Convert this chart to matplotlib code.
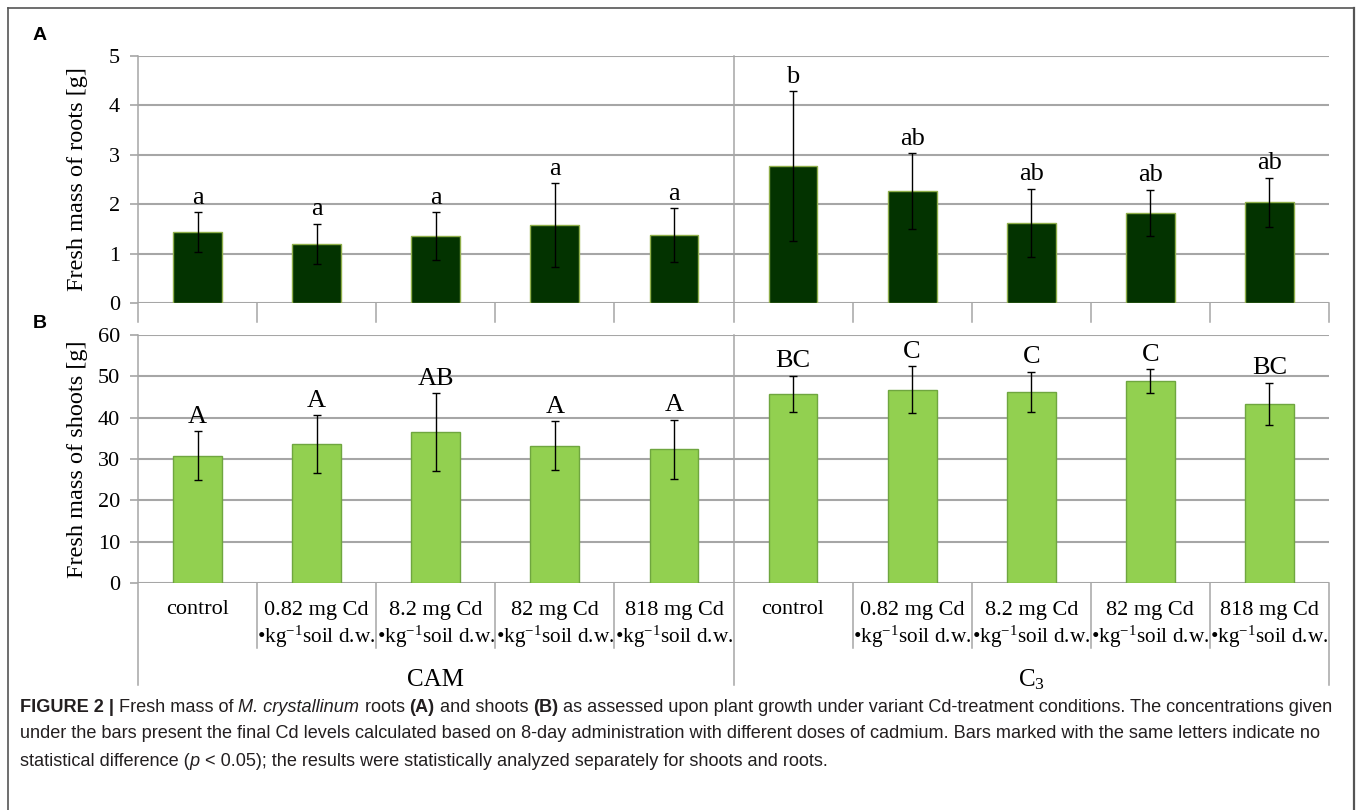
import matplotlib
matplotlib.use('Agg')
import matplotlib.pyplot as plt
import numpy as np

plt.rcParams['mathtext.fontset'] = 'custom'
plt.rcParams['mathtext.rm'] = 'Liberation Serif'
plt.rcParams['mathtext.it'] = 'Liberation Serif:italic'

# data
dose_top = ['control', '0.82 mg Cd', '8.2 mg Cd', '82 mg Cd', '818 mg Cd']
dose_bottom = ['', r'•kg$^{\mathregular{-1}}$soil d.w.', r'•kg$^{\mathregular{-1}}$soil d.w.',
               r'•kg$^{\mathregular{-1}}$soil d.w.', r'•kg$^{\mathregular{-1}}$soil d.w.']
groups = ['CAM', r'C$_3$']

roots_mean = [1.44, 1.19, 1.36, 1.57, 1.38, 2.77, 2.26, 1.62, 1.82, 2.04]
roots_err = [0.40, 0.41, 0.48, 0.85, 0.54, 1.52, 0.77, 0.69, 0.47, 0.50]
roots_letters = ['a', 'a', 'a', 'a', 'a', 'b', 'ab', 'ab', 'ab', 'ab']

shoots_mean = [30.8, 33.6, 36.5, 33.2, 32.3, 45.7, 46.8, 46.2, 48.8, 43.3]
shoots_err = [5.9, 7.0, 9.4, 5.9, 7.2, 4.4, 5.6, 4.9, 2.9, 5.1]
shoots_letters = ['A', 'A', 'AB', 'A', 'A', 'BC', 'C', 'C', 'C', 'BC']

W, H = 1358, 810
fig = plt.figure(figsize=(W / 100, H / 100), dpi=100)
serif = ['Liberation Serif', 'DejaVu Serif']
grid_c = '#a6a6a6'
n = len(roots_mean)
x = np.arange(n)


def px_axes(left, top, right, bottom):
    return fig.add_axes([left / W, 1 - bottom / H, (right - left) / W, (bottom - top) / H])


def setup(ax, ymax, step, ylabel, sep_len, long_len):
    ax.set_xlim(-0.5, n - 0.5)
    ax.set_ylim(0, ymax)
    ticks = np.arange(0, ymax + 0.1, step)
    ax.set_yticks(ticks)
    ax.set_yticklabels([f'{v:g}' for v in ticks], fontfamily=serif, fontsize=16)
    ax.tick_params(axis='y', length=6, width=1.2, color=grid_c, pad=7)
    ax.set_xticks([])
    for s in ['top', 'right', 'bottom', 'left']:
        ax.spines[s].set_visible(False)
    for v in ticks:
        ax.axhline(v, color=grid_c, lw=1.5, zorder=0)
    tr = ax.get_xaxis_transform()
    # category separators below the axis
    for b in np.arange(0.5, n - 0.5, 1):
        if b == 4.5:
            continue
        ax.plot([b, b], [0, -sep_len], color=grid_c, lw=1.1, transform=tr, clip_on=False)
    # long lines: left edge, group divider, right edge
    ax.plot([-0.5, -0.5], [1, -long_len], color=grid_c, lw=1.1, transform=tr, clip_on=False)
    ax.plot([4.5, 4.5], [1, -long_len], color=grid_c, lw=1.1, transform=tr, clip_on=False)
    ax.plot([n - 0.5, n - 0.5], [0, -long_len], color=grid_c, lw=1.1, transform=tr, clip_on=False)
    ax.set_ylabel(ylabel, fontfamily=serif, fontsize=17.5)
    ax.yaxis.set_label_coords((88 - 138) / 1191, 0.5)


def draw_bars(ax, mean, err, letters, fc, ec):
    ax.bar(x, mean, width=0.41, color=fc, edgecolor=ec, linewidth=1, zorder=2)
    ax.errorbar(x, mean, yerr=err, fmt='none', ecolor='black', elinewidth=1,
                capsize=3, capthick=1, zorder=3)
    for xi, m, e, lab in zip(x, mean, err, letters):
        ax.annotate(lab, (xi, m + e), xytext=(0, 2.5), textcoords='offset points',
                    ha='center', va='bottom', fontfamily=serif, fontsize=19)


# panel A - roots
axA = px_axes(138, 56, 1329, 303)
setup(axA, 5, 1, 'Fresh mass of roots [g]', 19 / 247, 19 / 247)
draw_bars(axA, roots_mean, roots_err, roots_letters, '#033300', '#8fae4a')

# panel B - shoots
axB = px_axes(138, 335, 1329, 583)
setup(axB, 60, 10, 'Fresh mass of shoots [g]', 65 / 248, 102 / 248)
draw_bars(axB, shoots_mean, shoots_err, shoots_letters, '#92d050', '#6fa63f')

trB = axB.get_xaxis_transform()
for i in range(n):
    top = dose_top[i % 5]
    bot = dose_bottom[i % 5]
    axB.text(i, -27 / 248, top, transform=trB, ha='center', va='center',
             fontfamily=serif, fontsize=16)
    if bot:
        axB.text(i, -54 / 248, bot, transform=trB, ha='center', va='center',
                 fontfamily=serif, fontsize=15.3)
axB.text(2, -97 / 248, groups[0], transform=trB, ha='center', va='center',
         fontfamily=serif, fontsize=18)
axB.text(7, -97 / 248, groups[1], transform=trB, ha='center', va='center',
         fontfamily=serif, fontsize=18)

# panel letters
fig.text(40 / W, 1 - 36 / H, 'A', fontsize=14, fontweight='bold', fontfamily='Liberation Sans',
         ha='center', va='center')
fig.text(40 / W, 1 - 324 / H, 'B', fontsize=14, fontweight='bold', fontfamily='Liberation Sans',
         ha='center', va='center')

# outer frame
frame_c = '#555555'
fig.add_artist(plt.Line2D([8 / W, 8 / W], [0, 1 - 8 / H], color=frame_c, lw=1.2))
fig.add_artist(plt.Line2D([1354 / W, 1354 / W], [0, 1 - 8 / H], color=frame_c, lw=1.6))
fig.add_artist(plt.Line2D([8 / W, 1354 / W], [1 - 8 / H, 1 - 8 / H], color=frame_c, lw=1.2))

# caption with mixed styles
cap_c = '#231f20'
cap_lines = [
    [('FIGURE 2 | ', 'bold', 'normal'), ('Fresh mass of ', 'normal', 'normal'),
     ('M. crystallinum', 'normal', 'italic'), (' roots ', 'normal', 'normal'),
     ('(A)', 'bold', 'normal'), (' and shoots ', 'normal', 'normal'),
     ('(B)', 'bold', 'normal'),
     (' as assessed upon plant growth under variant Cd-treatment conditions. The concentrations given',
      'normal', 'normal')],
    [('under the bars present the final Cd levels calculated based on 8-day administration with '
      'different doses of cadmium. Bars marked with the same letters indicate no', 'normal', 'normal')],
    [('statistical difference (', 'normal', 'normal'), ('p', 'normal', 'italic'),
     (' < 0.05); the results were statistically analyzed separately for shoots and roots.',
      'normal', 'normal')],
]
cap_y = [707, 734, 761]
fig.canvas.draw()
renderer = fig.canvas.get_renderer()
for segs, yy in zip(cap_lines, cap_y):
    xpos = 20
    for txt, wt, st in segs:
        t = fig.text(xpos / W, 1 - yy / H, txt, fontsize=13.1, fontfamily='Liberation Sans',
                     fontweight=wt, fontstyle=st, color=cap_c, va='center', ha='left')
        bb = t.get_window_extent(renderer=renderer)
        xpos += bb.width

fig.savefig('out.png', dpi=100)
